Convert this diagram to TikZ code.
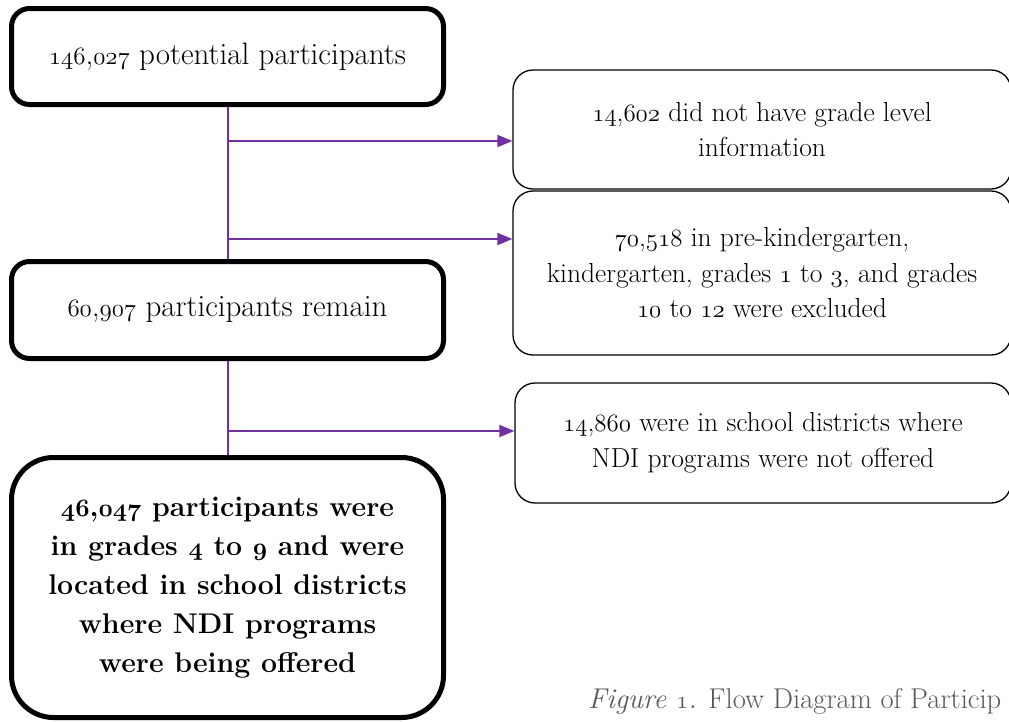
\documentclass[tikz,border=0pt]{standalone}
\usepackage{tikz}
\usetikzlibrary{arrows.meta}
\definecolor{flowpurple}{RGB}{112,48,160}
\definecolor{capgray}{RGB}{89,89,89}
\newcommand{\osn}[1]{{\usefont{OML}{cmm}{m}{it}#1}}
\newcommand{\osnb}[1]{{\usefont{OML}{cmm}{b}{it}#1}}

\begin{document}
\begin{tikzpicture}[x=1pt,y=-1pt]
\tikzstyle{every node}+=[inner sep=0pt]
\tikzstyle{keybox}=[draw=black,line width=5pt,rounded corners=18pt,align=center,font=\fontsize{31}{39}\selectfont]
\tikzstyle{finalbox}=[keybox,rounded corners=42pt,font=\fontsize{28.5}{39}\selectfont\bfseries]
\tikzstyle{outbox}=[draw=black,line width=1.3pt,rounded corners=20pt,align=center,font=\fontsize{27.5}{35.5}\selectfont]
\tikzstyle{flow}=[draw=flowpurple,line width=2pt]
\tikzstyle{flowarrow}=[flow,-{Triangle[length=15pt,width=12pt]}]
\useasboundingbox (0,0) rectangle (1009,721);
\clip (0,0) rectangle (1009,721);
% left column
\draw (227.5,56.5) node[keybox,minimum width=432pt,minimum height=96pt] (start) {\osn{146},\osn{027} potential participants};
\draw (227.5,310) node[keybox,minimum width=432pt,minimum height=97pt] (remain) {\osn{60},\osn{907} participants remain};
\draw (227.5,587.5) node[finalbox,minimum width=432pt,minimum height=260pt] (final) {\osnb{46},\osnb{047} participants were\\in grades \osnb{4} to \osnb{9} and were\\located in school districts\\where NDI programs\\were being offered};
% right column
\draw (762,129.5) node[outbox,minimum width=498pt,minimum height=119pt] (nograde) {\osn{14},\osn{602} did not have grade level\\information};
\draw (762,273) node[outbox,minimum width=498pt,minimum height=164pt] (wronggrade) {\osn{70},\osn{518} in pre-kindergarten,\\kindergarten, grades \osn{1} to \osn{3}, and grades\\\osn{10} to \osn{12} were excluded};
\draw (763,443) node[outbox,minimum width=496pt,minimum height=120pt] (nondi) {\osn{14},\osn{860} were in school districts where\\NDI programs were not offered};
% connectors
\coordinate (j1) at (227.5,141);
\coordinate (j2) at (227.5,239);
\coordinate (j3) at (227.5,431);
\draw [flow] (start.south) -- (remain.north);
\draw [flow] (remain.south) -- (final.north);
\draw [flowarrow] (j1) -- (j1 -| nograde.west);
\draw [flowarrow] (j2) -- (j2 -| wronggrade.west);
\draw [flowarrow] (j3) -- (j3 -| nondi.west);
% caption
\node [anchor=base west,text=capgray,font=\fontsize{28.6}{33}\selectfont] (caption) at (588,708) {\textit{Figure \osn{1}.} Flow Diagram of Particip};
\end{tikzpicture}
\end{document}
